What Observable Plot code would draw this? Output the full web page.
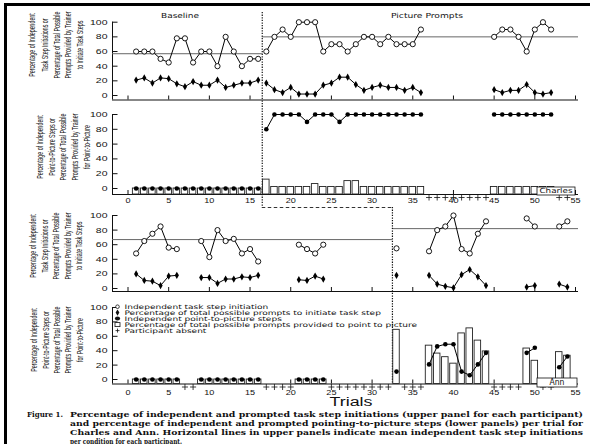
<!DOCTYPE html>
<html><head><meta charset="utf-8">
<script src="https://cdn.jsdelivr.net/npm/d3@7"></script>
<script src="https://cdn.jsdelivr.net/npm/@observablehq/plot@0.6"></script>
<style>
html,body{margin:0;padding:0;background:#fff;}
#root{position:relative;width:590px;height:444px;overflow:hidden;background:#fff;}
#frame{position:absolute;left:3.5px;top:2.8px;width:600px;height:460px;border-left:3.8px solid #000;border-top:3.8px solid #000;box-sizing:border-box;pointer-events:none;}
</style></head><body><div id="root"></div>
<script>
// ---------------- data ----------------
const trials = d3.range(1, 55);
const xTicks = [0, 5, 10, 15, 20, 25, 30, 35, 40, 45, 50, 55];
const yTicks = [0, 20, 40, 60, 80, 100];
const N = null;

const charlesInit = [60,60,60,50,45,78,78,45,60,60,40,80,60,40,50,50,
  60,80,90,80,100,100,100,60,70,70,60,70,80,80,70,80,70,70,70,90,
  N,N,N,N,N,N,N,N, 80,90,90,80,60,90,100,90, N,N];
const charlesPrompt = [21,24,17,24,23,16,12,19,14,14,21,11,14,17,17,21,
  17,8,4,11,2,2,2,14,17,25,25,15,7,11,14,11,11,7,11,4,
  N,N,N,N,N,N,N,N, 8,4,7,7,15,4,2,4, N,N];
const charlesPoint = [0,0,0,0,0,0,0,0,0,0,0,0,0,0,0,0,
  80,100,100,100,100,90,100,100,100,90,100,100,100,100,100,100,100,100,100,100,
  N,N,N,N,N,N,N,N, 100,100,100,100,100,100,100,100, N,N];
const charlesBar = [0,0,0,0,0,0,0,0,0,0,0,0,0,0,0,0,
  12,2,2,2,2,2,6,2,2,2,10,10,2,2,2,2,2,2,2,2,
  N,N,N,N,N,N,N,N, 2,2,2,2,2,2,2,2, N,N];
const charlesMeans = [57, 80];
const charlesChange = 16.5;

const annInit = [48,65,75,85,56,54, N,N, 65,43,80,65,68,48,54,37, N,N,N,N, 60,54,48,60,
  N,N,N,N,N,N,N,N, 55, N,N,N, 51,80,85,100,54,48,75,92, N,N,N,N, 96,85, N,N, 85,92];
const annPrompt = [20,11,10,4,17,18, N,N, 15,15,7,13,13,16,15,18, N,N,N,N, 12,11,17,13,
  N,N,N,N,N,N,N,N, 18, N,N,N, 18,6,3,1,19,26,16,4, N,N,N,N, 2,4, N,N, 6,2];
const annPoint = [0,0,0,0,0,0, N,N, 0,0,0,0,0,0,0,0, N,N,N,N, 0,0,0,0,
  N,N,N,N,N,N,N,N, 11, N,N,N, 21,46,49,49,11,6,21,37, N,N,N,N, 37,44, N,N, 17,32];
const annBar = [0,0,0,0,0,0, N,N, 0,0,0,0,0,0,0,0, N,N,N,N, 0,0,0,0,
  N,N,N,N,N,N,N,N, 69, N,N,N, 47,36,31,22,64,71,54,39, N,N,N,N, 43,26, N,N, 38,33];
const annMeans = [67, 82];
const annChange = 32.5;

const upperTitle = ["Percentage of Independent","Task Step Initiations or","Percentage of Total Possible","Prompts Provided by Trainer","to Initiate Task Steps"];
const lowerTitle = ["Percentage of Independent","Point-to-Picture Steps or","Percentage of Total Possible","Prompts Provided by Trainer","for Point-to-Picture"];
const legendItems = ["Independent task step initiation","Percentage of total possible prompts to initiate task step","Independent point-to-picture steps","Percentage of total possible prompts provided to point to picture","Participant absent"];
const captionLines = ["Percentage of independent and prompted task step initiations (upper panel for each participant)",
  "and percentage of independent and prompted pointing-to-picture steps (lower panels) per trial for",
  "Charles and Ann. Horizontal lines in upper panels indicate mean independent task step initiations",
  "per condition for each participant."];

// ---------------- layout ----------------
const root = document.getElementById("root");
const x0px = 127.5, x55px = 575, pxPerTrial = (x55px - x0px) / 55;
const xv = px => (px - x0px) / pxPerTrial;
const xStart = xv(112), xEnd = xv(578);
const P = {
  c1: {svgTop: 0, H: 104, top: 21.7, bottom: 95, axisPx: 99.5},
  c2: {svgTop: 104, H: 106, top: 114, bottom: 188, axisPx: 194, labPad: 9.7, plusPx: 197},
  a1: {svgTop: 210, H: 86, top: 215, bottom: 288, axisPx: 291},
  a2: {svgTop: 296, H: 100, top: 307, bottom: 379, axisPx: 383.5, labPad: 10.7, plusPx: 386.5}
};
const v = (p, py) => (p.bottom - py) / (p.bottom - p.top) * 100;

function rows(init, prompt, point, bar, change) {
  return trials.map((t, i) => ({t, init: init[i], prompt: prompt[i], point: point[i], bar: bar[i],
    phase: t < change ? "baseline" : "prompts", absent: init[i] == null}));
}
const charles = rows(charlesInit, charlesPrompt, charlesPoint, charlesBar, charlesChange);
const ann = rows(annInit, annPrompt, annPoint, annBar, annChange);
const meanRows = (means, change) => [{mean: means[0], x1: xStart, x2: change}, {mean: means[1], x1: change, x2: xEnd}];

// widen tick labels horizontally (keeps their anchor point)
function stretch(svg, sx) {
  svg.querySelectorAll('g[aria-label$="tick label"] text').forEach(t => {
    const tr = t.getAttribute("transform") || "";
    t.setAttribute("transform", `${tr} scale(${sx},1)`);
  });
}

function panel(p, marks, xLabels) {
  const axisVal = v(p, p.axisPx);
  const base = [
    Plot.ruleY([axisVal], {x1: xStart, x2: xEnd, stroke: "#111", strokeWidth: 1}),
    Plot.ruleX([xStart], {y1: axisVal, y2: 100, stroke: "#111", strokeWidth: 1}),
    Plot.ruleY(yTicks, {x1: xStart, x2: xv(117.5), stroke: "#111"}),
    Plot.ruleX(xTicks, {y1: axisVal, y2: v(p, p.axisPx - 4), stroke: "#111"}),
    Plot.axisY({ticks: yTicks, tickSize: 0, tickPadding: x0px - 107, fontSize: 7.5, label: null})
  ];
  if (xLabels) base.push(Plot.axisX({ticks: xTicks, tickSize: 0, tickPadding: p.labPad, fontSize: 6.5, label: null}));
  const svg = Plot.plot({
    width: 590, height: p.H,
    marginLeft: x0px, marginRight: 590 - x55px,
    marginTop: p.top - p.svgTop, marginBottom: p.svgTop + p.H - p.bottom,
    x: {domain: [0, 55], axis: null},
    y: {domain: [0, 100], axis: null},
    style: {background: "transparent", overflow: "visible", fontFamily: "'Liberation Sans', Arial, sans-serif", fontSize: "7.5px", color: "#111"},
    marks: [...base, ...marks(axisVal)]
  });
  stretch(svg, 1.4);
  svg.style.position = "absolute"; svg.style.left = "0px"; svg.style.top = p.svgTop + "px";
  root.appendChild(svg);
}

function upperMarks(data, means, change) {
  return [
    Plot.ruleY(meanRows(means, change), {y: "mean", x1: "x1", x2: "x2", stroke: "#666", strokeWidth: 1}),
    Plot.line(data, {x: "t", y: "init", z: "phase", stroke: "black", strokeWidth: 1}),
    Plot.line(data, {x: "t", y: "prompt", z: "phase", stroke: "black", strokeWidth: 1}),
    Plot.dot(data, {x: "t", y: "init", r: 2.6, fill: "white", stroke: "black", strokeWidth: 0.9}),
    Plot.dot(data, {x: "t", y: "prompt", symbol: "diamond", r: 2.2, fill: "black"})
  ];
}
function lowerMarks(data, p, axisVal) {
  return [
    Plot.rectY(data.filter(d => d.bar != null), {x1: d => d.t - 0.4, x2: d => d.t + 0.4, y1: axisVal, y2: "bar", fill: "white", stroke: "#222", strokeWidth: 0.9}),
    Plot.line(data.filter(d => d.phase === "prompts"), {x: "t", y: "point", stroke: "black", strokeWidth: 1}),
    Plot.dot(data, {x: "t", y: "point", r: 2.3, fill: "black"}),
    Plot.dot(data.filter(d => d.absent), {x: "t", y: v(p, p.plusPx), symbol: "plus", r: 2.1, stroke: "#111", strokeWidth: 0.8})
  ];
}

// Charles upper + phase line
panel(P.c1, () => [
  ...upperMarks(charles, charlesMeans, charlesChange),
  Plot.ruleX([charlesChange], {y1: v(P.c1, 12), y2: v(P.c1, 207), stroke: "#111", strokeWidth: 1.2, strokeDasharray: "1.3,1.3"})
], false);
// Charles lower + dashed connector
panel(P.c2, (axisVal) => [
  ...lowerMarks(charles, P.c2, axisVal),
  Plot.ruleY([v(P.c2, 207)], {x1: charlesChange, x2: annChange, stroke: "#333", strokeWidth: 1, strokeDasharray: "3.5,2.5"})
], true);
// Ann upper + phase line
panel(P.a1, () => [
  ...upperMarks(ann, annMeans, annChange),
  Plot.ruleX([annChange], {y1: v(P.a1, 207), y2: v(P.a1, 383.5), stroke: "#111", strokeWidth: 1.2, strokeDasharray: "1.3,1.3"})
], false);
// Ann lower
panel(P.a2, (axisVal) => lowerMarks(ann, P.a2, axisVal), true);

// ---------------- annotations overlay ----------------
const ov = d3.select(root).append("svg").attr("width", 590).attr("height", 444)
  .style("position", "absolute").style("left", "0px").style("top", "0px").style("overflow", "visible");

function ltext(txt, x, y, size, len, opts = {}) {
  const t = ov.append("text").attr("x", x).attr("y", y).text(txt)
    .attr("font-family", opts.family || "'DejaVu Sans', sans-serif").attr("font-size", size)
    .attr("font-weight", opts.weight || "normal")
    .attr("text-anchor", opts.anchor || "middle").attr("dominant-baseline", "central").attr("fill", "#111");
  if (len) t.attr("textLength", len).attr("lengthAdjust", "spacingAndGlyphs");
  return t;
}
ltext("Baseline", 180, 16, 7, 38);
ltext("Picture Prompts", 427, 16, 7, 72);
ltext("Trials", 351, 402, 12, 43, {family: "'Liberation Sans', Arial, sans-serif"});

// rotated y titles
function ytitle(lines, xs, cy) {
  lines.forEach((s, i) => {
    ov.append("text").text(s)
      .attr("transform", `translate(${xs[i]},${cy}) rotate(-90) scale(0.6,1)`)
      .attr("font-family", "'Liberation Sans', Arial, sans-serif").attr("font-size", 8.8)
      .attr("text-anchor", "middle").attr("dominant-baseline", "central").attr("fill", "#111");
  });
}
ytitle(upperTitle, [31.7, 45, 56.7, 68.3, 80], 45);
ytitle(lowerTitle, [40, 51.7, 63.3, 75, 86.5], 147);
ytitle(upperTitle, [33, 44.5, 56, 67.5, 79], 246);
ytitle(lowerTitle, [34, 45.5, 57, 68.3, 79.5], 340);

// legend
const legY = [306.7, 312.6, 318.6, 324.6, 330.6];
const legTexts = [];
legendItems.forEach((s, i) => {
  const y = legY[i], sx = 117.5;
  if (i === 0) ov.append("circle").attr("cx", sx).attr("cy", y).attr("r", 1.8).attr("fill", "white").attr("stroke", "#111").attr("stroke-width", 0.8);
  if (i === 1) ov.append("path").attr("d", d3.symbol(d3.symbolDiamond, 12)()).attr("transform", `translate(${sx},${y})`).attr("fill", "#111");
  if (i === 2) ov.append("ellipse").attr("cx", sx).attr("cy", y).attr("rx", 2.6).attr("ry", 2).attr("fill", "#111");
  if (i === 3) ov.append("rect").attr("x", sx - 2.5).attr("y", y - 2).attr("width", 5).attr("height", 4).attr("fill", "white").attr("stroke", "#111").attr("stroke-width", 0.8);
  if (i === 4) ov.append("path").attr("d", "M-2,0H2M0,-2V2").attr("transform", `translate(${sx},${y})`).attr("stroke", "#111").attr("stroke-width", 0.8);
  legTexts.push(ov.append("text").text(s).attr("data-y", y)
    .attr("font-family", "'DejaVu Sans', sans-serif").attr("font-size", 6.2)
    .attr("dominant-baseline", "central").attr("fill", "#111"));
});
// scale legend text so the longest line ends where the reference's does
const longest = d3.max(legTexts, t => t.node().getComputedTextLength());
const legScale = (417 - 124.5) / longest;
legTexts.forEach(t => t.attr("transform", `translate(124.5,${t.attr("data-y")}) scale(${legScale},1)`));

// participant boxes
ov.append("rect").attr("x", 537).attr("y", 187).attr("width", 38).attr("height", 8).attr("fill", "white").attr("stroke", "#111").attr("stroke-width", 0.8);
ltext("Charles", 556, 191.2, 7, 33);
ov.append("rect").attr("x", 537).attr("y", 378).attr("width", 40).attr("height", 9).attr("fill", "white").attr("stroke", "#111").attr("stroke-width", 0.8);
ltext("Ann", 557, 382.6, 8, 15);

// caption
const capF = {family: "'DejaVu Serif', serif", weight: "bold", anchor: "start"};
ltext("Figure 1.", 27, 414, 8, 36, capF);
const capY = [414, 423, 431.8, 440.5];
captionLines.forEach((s, i) => ltext(s, 70, capY[i], 8, i < 3 ? 513 : 112, capF));

// outer frame
const fr = document.createElement("div"); fr.id = "frame"; root.appendChild(fr);
</script></body></html>
